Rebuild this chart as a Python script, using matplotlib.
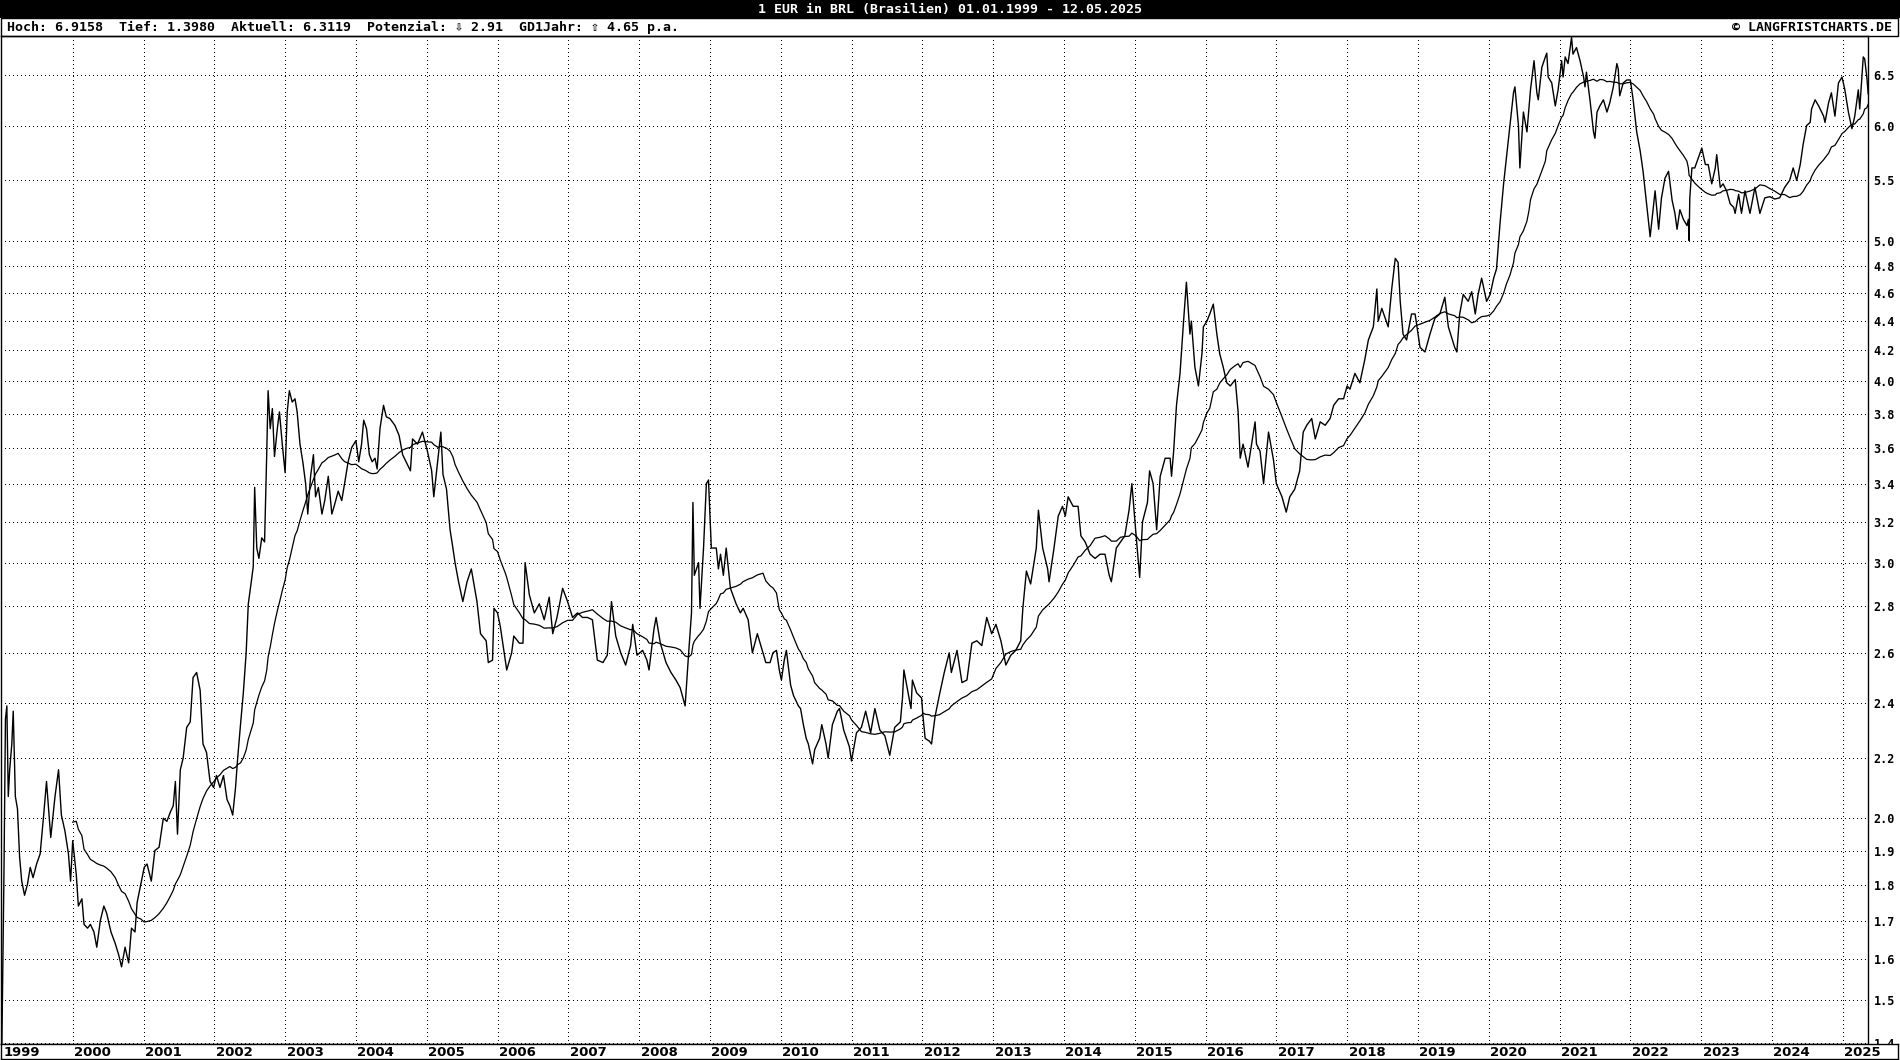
import numpy as np
import pandas as pd
import matplotlib
matplotlib.use("Agg")
import matplotlib.pyplot as plt
from matplotlib.patches import Rectangle
from matplotlib.ticker import NullLocator
from matplotlib.transforms import blended_transform_factory

# EUR/BRL (decimal year, rate)
t_1999_2004 = [1999.00, 1999.01, 1999.03, 1999.05, 1999.07, 1999.09, 1999.11, 1999.14, 1999.16, 1999.19,
               1999.22, 1999.25, 1999.28, 1999.32, 1999.36, 1999.40, 1999.44, 1999.49, 1999.54, 1999.59,
               1999.63, 1999.69, 1999.75, 1999.80, 1999.84, 1999.89, 1999.94, 1999.97, 2000.00, 2000.05,
               2000.08, 2000.13, 2000.16, 2000.21, 2000.25, 2000.30, 2000.34, 2000.39, 2000.44, 2000.48,
               2000.54, 2000.60, 2000.65, 2000.69, 2000.74, 2000.79, 2000.83, 2000.88, 2000.91, 2000.96,
               2001.01, 2001.05, 2001.11, 2001.16, 2001.22, 2001.28, 2001.33, 2001.38, 2001.42, 2001.45,
               2001.48, 2001.52, 2001.56, 2001.61, 2001.66, 2001.70, 2001.75, 2001.80, 2001.84, 2001.89,
               2001.94, 2001.99, 2002.03, 2002.08, 2002.13, 2002.18, 2002.22, 2002.26, 2002.30, 2002.33,
               2002.37, 2002.41, 2002.45, 2002.48, 2002.51, 2002.55, 2002.57, 2002.60, 2002.63, 2002.67,
               2002.71, 2002.74, 2002.76, 2002.79, 2002.82, 2002.85, 2002.89, 2002.92, 2002.96, 2003.00,
               2003.03, 2003.06, 2003.10, 2003.14, 2003.17, 2003.21, 2003.25, 2003.29, 2003.32, 2003.36,
               2003.40, 2003.43, 2003.47, 2003.52, 2003.56, 2003.61, 2003.66, 2003.70, 2003.75, 2003.80,
               2003.84, 2003.89, 2003.94, 2004.00, 2004.04, 2004.08, 2004.11, 2004.15, 2004.19, 2004.23,
               2004.27, 2004.30, 2004.34, 2004.39, 2004.43]
v_1999_2004 = [1.40, 1.54, 1.85, 2.34, 2.39, 2.07, 2.16, 2.25, 2.37, 2.07,
               2.03, 1.88, 1.81, 1.77, 1.80, 1.85, 1.82, 1.86, 1.89, 2.01,
               2.12, 1.94, 2.07, 2.16, 2.01, 1.96, 1.89, 1.81, 1.93, 1.83,
               1.74, 1.76, 1.69, 1.68, 1.69, 1.67, 1.63, 1.70, 1.74, 1.72,
               1.67, 1.64, 1.61, 1.58, 1.63, 1.59, 1.68, 1.67, 1.75, 1.80,
               1.85, 1.86, 1.81, 1.90, 1.91, 2.00, 1.99, 2.02, 2.04, 2.12,
               1.95, 2.16, 2.20, 2.31, 2.33, 2.50, 2.52, 2.45, 2.25, 2.22,
               2.12, 2.10, 2.14, 2.10, 2.14, 2.06, 2.04, 2.01, 2.10, 2.20,
               2.32, 2.44, 2.60, 2.81, 2.88, 2.98, 3.38, 3.07, 3.02, 3.12,
               3.10, 3.56, 3.94, 3.71, 3.83, 3.55, 3.71, 3.81, 3.62, 3.46,
               3.81, 3.94, 3.87, 3.89, 3.81, 3.62, 3.52, 3.40, 3.24, 3.44,
               3.56, 3.33, 3.38, 3.24, 3.31, 3.44, 3.24, 3.29, 3.36, 3.31,
               3.40, 3.52, 3.60, 3.64, 3.52, 3.62, 3.76, 3.71, 3.56, 3.52,
               3.54, 3.48, 3.71, 3.85, 3.78]

t_2004_2009 = [2004.48, 2004.55, 2004.61, 2004.66, 2004.72, 2004.77, 2004.80, 2004.87, 2004.94, 2005.01,
               2005.07, 2005.10, 2005.16, 2005.20, 2005.23, 2005.28, 2005.33, 2005.37, 2005.40, 2005.45,
               2005.51, 2005.57, 2005.63, 2005.71, 2005.76, 2005.84, 2005.87, 2005.93, 2005.95, 2006.00,
               2006.04, 2006.11, 2006.13, 2006.20, 2006.23, 2006.31, 2006.36, 2006.39, 2006.45, 2006.52,
               2006.59, 2006.66, 2006.73, 2006.78, 2006.84, 2006.92, 2006.99, 2007.06, 2007.13, 2007.20,
               2007.27, 2007.34, 2007.41, 2007.49, 2007.55, 2007.61, 2007.67, 2007.74, 2007.81, 2007.88,
               2007.91, 2007.97, 2008.05, 2008.11, 2008.14, 2008.21, 2008.24, 2008.30, 2008.38, 2008.45,
               2008.52, 2008.58, 2008.65, 2008.70, 2008.74, 2008.76, 2008.78, 2008.84, 2008.86, 2008.91,
               2008.95, 2008.98, 2009.02, 2009.09, 2009.12, 2009.15, 2009.19, 2009.23, 2009.29, 2009.37,
               2009.43, 2009.47, 2009.54, 2009.60, 2009.67, 2009.75]
v_2004_2009 = [3.77, 3.73, 3.67, 3.56, 3.51, 3.47, 3.65, 3.62, 3.69, 3.58,
               3.47, 3.33, 3.54, 3.69, 3.45, 3.37, 3.16, 3.07, 3.00, 2.91,
               2.82, 2.91, 2.97, 2.82, 2.68, 2.65, 2.56, 2.57, 2.79, 2.77,
               2.71, 2.57, 2.53, 2.60, 2.67, 2.64, 2.64, 3.00, 2.85, 2.77,
               2.81, 2.74, 2.84, 2.68, 2.75, 2.88, 2.82, 2.75, 2.77, 2.75,
               2.75, 2.74, 2.57, 2.56, 2.59, 2.82, 2.67, 2.60, 2.55, 2.63,
               2.72, 2.59, 2.61, 2.57, 2.53, 2.70, 2.75, 2.64, 2.56, 2.52,
               2.49, 2.46, 2.39, 2.60, 2.77, 3.30, 2.94, 3.00, 2.79, 3.07,
               3.40, 3.42, 3.07, 3.07, 2.97, 3.04, 2.94, 3.07, 2.88, 2.81,
               2.77, 2.79, 2.74, 2.60, 2.68, 2.60]

t_2009_2015 = [2009.79, 2009.85, 2009.89, 2009.94, 2009.98, 2010.01, 2010.05, 2010.08, 2010.14, 2010.18,
               2010.25, 2010.28, 2010.32, 2010.36, 2010.39, 2010.45, 2010.48, 2010.55, 2010.58, 2010.64,
               2010.67, 2010.73, 2010.80, 2010.83, 2010.89, 2010.97, 2011.00, 2011.07, 2011.14, 2011.20,
               2011.27, 2011.33, 2011.40, 2011.47, 2011.54, 2011.61, 2011.69, 2011.72, 2011.74, 2011.80,
               2011.84, 2011.86, 2011.92, 2011.99, 2012.01, 2012.04, 2012.10, 2012.13, 2012.18, 2012.24,
               2012.31, 2012.38, 2012.41, 2012.49, 2012.56, 2012.63, 2012.70, 2012.77, 2012.84, 2012.91,
               2012.98, 2013.04, 2013.11, 2013.18, 2013.25, 2013.32, 2013.39, 2013.42, 2013.47, 2013.53,
               2013.61, 2013.64, 2013.70, 2013.77, 2013.79, 2013.86, 2013.92, 2013.98, 2014.02, 2014.06,
               2014.13, 2014.20, 2014.24, 2014.30, 2014.37, 2014.44, 2014.51, 2014.58, 2014.64, 2014.67,
               2014.74, 2014.80, 2014.86, 2014.92, 2014.96, 2015.02, 2015.07, 2015.11, 2015.18, 2015.21]
v_2009_2015 = [2.56, 2.56, 2.60, 2.61, 2.53, 2.49, 2.57, 2.61, 2.47, 2.43,
               2.39, 2.38, 2.32, 2.27, 2.25, 2.18, 2.23, 2.27, 2.32, 2.25,
               2.20, 2.32, 2.37, 2.38, 2.30, 2.24, 2.19, 2.29, 2.31, 2.37,
               2.29, 2.38, 2.30, 2.28, 2.21, 2.31, 2.33, 2.42, 2.53, 2.44,
               2.38, 2.49, 2.44, 2.42, 2.35, 2.27, 2.26, 2.25, 2.35, 2.43,
               2.52, 2.60, 2.52, 2.61, 2.48, 2.49, 2.64, 2.65, 2.63, 2.75,
               2.68, 2.72, 2.65, 2.55, 2.59, 2.61, 2.65, 2.79, 2.96, 2.90,
               3.07, 3.26, 3.07, 2.97, 2.91, 3.07, 3.23, 3.28, 3.23, 3.33,
               3.28, 3.28, 3.13, 3.10, 3.04, 3.02, 3.04, 3.04, 2.94, 2.91,
               3.07, 3.10, 3.13, 3.26, 3.40, 3.13, 2.93, 3.20, 3.30, 3.47]

t_2015_2020 = [2015.26, 2015.31, 2015.36, 2015.43, 2015.50, 2015.52, 2015.55, 2015.59, 2015.64, 2015.69,
               2015.73, 2015.78, 2015.80, 2015.85, 2015.90, 2015.95, 2015.97, 2016.02, 2016.06, 2016.11,
               2016.16, 2016.20, 2016.25, 2016.30, 2016.35, 2016.42, 2016.46, 2016.49, 2016.53, 2016.60,
               2016.70, 2016.72, 2016.77, 2016.82, 2016.89, 2016.96, 2017.00, 2017.08, 2017.14, 2017.19,
               2017.26, 2017.33, 2017.38, 2017.43, 2017.50, 2017.55, 2017.62, 2017.69, 2017.76, 2017.81,
               2017.88, 2017.95, 2018.00, 2018.04, 2018.11, 2018.18, 2018.25, 2018.30, 2018.37, 2018.42,
               2018.44, 2018.49, 2018.58, 2018.63, 2018.68, 2018.72, 2018.75, 2018.79, 2018.84, 2018.91,
               2018.96, 2019.03, 2019.10, 2019.17, 2019.24, 2019.31, 2019.38, 2019.43, 2019.52, 2019.55,
               2019.59, 2019.64, 2019.71, 2019.76, 2019.81, 2019.85, 2019.90, 2019.97, 2020.02, 2020.07,
               2020.11, 2020.16, 2020.21, 2020.25, 2020.30, 2020.35, 2020.37, 2020.42, 2020.44, 2020.49,
               2020.54]
v_2015_2020 = [3.40, 3.16, 3.44, 3.54, 3.54, 3.44, 3.58, 3.85, 4.05, 4.40,
               4.68, 4.31, 4.40, 4.09, 3.97, 4.18, 4.36, 4.40, 4.45, 4.52,
               4.31, 4.18, 4.09, 3.99, 3.97, 4.01, 3.81, 3.54, 3.62, 3.49,
               3.75, 3.62, 3.58, 3.40, 3.69, 3.53, 3.40, 3.33, 3.25, 3.33,
               3.37, 3.47, 3.69, 3.73, 3.77, 3.65, 3.75, 3.73, 3.77, 3.85,
               3.89, 3.89, 3.97, 3.95, 4.05, 3.99, 4.14, 4.27, 4.36, 4.63,
               4.40, 4.49, 4.36, 4.63, 4.86, 4.83, 4.54, 4.31, 4.27, 4.45,
               4.45, 4.22, 4.19, 4.31, 4.42, 4.45, 4.57, 4.36, 4.22, 4.19,
               4.45, 4.59, 4.54, 4.61, 4.45, 4.59, 4.71, 4.54, 4.59, 4.71,
               4.78, 5.14, 5.47, 5.70, 6.00, 6.32, 6.38, 6.00, 5.61, 6.13,
               5.94]

t_2020_2025 = [2020.57, 2020.59, 2020.64, 2020.68, 2020.70, 2020.75, 2020.80, 2020.82, 2020.84, 2020.89,
               2020.94, 2020.98, 2021.03, 2021.05, 2021.08, 2021.12, 2021.17, 2021.19, 2021.24, 2021.29,
               2021.34, 2021.36, 2021.38, 2021.43, 2021.48, 2021.50, 2021.53, 2021.57, 2021.62, 2021.67,
               2021.71, 2021.76, 2021.81, 2021.83, 2021.85, 2021.90, 2021.95, 2022.00, 2022.04, 2022.09,
               2022.14, 2022.18, 2022.23, 2022.28, 2022.33, 2022.35, 2022.40, 2022.44, 2022.49, 2022.54,
               2022.59, 2022.63, 2022.66, 2022.70, 2022.75, 2022.80, 2022.82, 2022.83, 2022.84, 2022.87,
               2022.91, 2022.96, 2023.01, 2023.06, 2023.10, 2023.15, 2023.20, 2023.22, 2023.27, 2023.31,
               2023.36, 2023.41, 2023.46, 2023.48, 2023.53, 2023.57, 2023.62, 2023.69, 2023.76, 2023.83,
               2023.90, 2023.97, 2024.04, 2024.11, 2024.18, 2024.25, 2024.30, 2024.35, 2024.40, 2024.44,
               2024.49, 2024.54, 2024.56, 2024.61, 2024.66, 2024.73, 2024.75, 2024.80, 2024.84, 2024.89,
               2024.94, 2024.99, 2025.03, 2025.08, 2025.13, 2025.17, 2025.22, 2025.24, 2025.29, 2025.31,
               2025.34, 2025.36]
v_2020_2025 = [6.19, 6.35, 6.65, 6.32, 6.25, 6.58, 6.69, 6.73, 6.48, 6.42,
               6.19, 6.35, 6.65, 6.48, 6.69, 6.62, 6.90, 6.72, 6.79, 6.65,
               6.48, 6.38, 6.53, 6.25, 5.94, 5.88, 6.13, 6.19, 6.25, 6.13,
               6.22, 6.38, 6.62, 6.56, 6.29, 6.42, 6.45, 6.45, 6.25, 5.94,
               5.76, 5.58, 5.30, 5.03, 5.30, 5.41, 5.09, 5.35, 5.52, 5.58,
               5.33, 5.22, 5.09, 5.25, 5.17, 5.12, 5.17, 5.00, 5.35, 5.61,
               5.61, 5.70, 5.79, 5.64, 5.64, 5.47, 5.61, 5.73, 5.44, 5.47,
               5.41, 5.30, 5.27, 5.22, 5.38, 5.22, 5.41, 5.22, 5.44, 5.22,
               5.35, 5.36, 5.34, 5.35, 5.44, 5.50, 5.61, 5.50, 5.64, 5.82,
               6.00, 6.03, 6.16, 6.25, 6.19, 6.09, 6.03, 6.22, 6.32, 6.09,
               6.42, 6.48, 6.35, 6.13, 5.97, 6.09, 6.35, 6.16, 6.69, 6.67,
               6.48, 6.31]

y_ticks = [1.4, 1.5, 1.6, 1.7, 1.8, 1.9, 2.0, 2.2, 2.4, 2.6, 2.8, 3.0, 3.2, 3.4, 3.6, 3.8,
           4.0, 4.2, 4.4, 4.6, 4.8, 5.0, 5.5, 6.0, 6.5]
years = list(range(1999, 2026))

title = "1 EUR in BRL (Brasilien) 01.01.1999 - 12.05.2025"
info = "Hoch: 6.9158  Tief: 1.3980  Aktuell: 6.3119  Potenzial: \u21e9 2.91  GD1Jahr: \u21e7 4.65 p.a."
copy = "\u00a9 LANGFRISTCHARTS.DE"

t = np.array(t_1999_2004 + t_2004_2009 + t_2009_2015 + t_2015_2020 + t_2020_2025)
v = np.array(v_1999_2004 + v_2004_2009 + v_2009_2015 + v_2015_2020 + v_2020_2025)

# 1-year moving average (GD1Jahr)
dates = pd.Timestamp("1999-01-01") + pd.to_timedelta((t - 1999) * 365.25, unit="D")
ma = pd.Series(v, index=dates).rolling("365D").mean().to_numpy()
ma_mask = t >= 2000.0

W, H = 1900, 1060
mono = ["DejaVu Sans Mono", "DejaVu Sans"]

fig = plt.figure(figsize=(W / 100, H / 100), dpi=100)
fig.patch.set_facecolor("white")


def fx(px):
    return px / W


def fy(py):
    return 1 - py / H


# main plot area
left, right, top, bottom = 1, 1868, 36, 1044
ax = fig.add_axes([fx(left), fy(bottom), fx(right - left), (bottom - top) / H])
ax.plot(t[ma_mask], ma[ma_mask], color="black", lw=0.9, zorder=3)
ax.plot(t, v, color="black", lw=1.0, zorder=4)

ax.set_yscale("log")
ax.set_ylim(1.398, 6.9158)
ax.set_xlim(1999 - 0.9 / 70.8, 2025.357)
ax.set_yticks(y_ticks)
ax.set_yticklabels([f"{y:.1f}" for y in y_ticks])
ax.yaxis.set_minor_locator(NullLocator())
ax.yaxis.tick_right()
ax.set_xticks(years[1:])
ax.set_xticklabels([])
ax.tick_params(axis="both", length=0)
ax.tick_params(axis="y", pad=4, labelsize=8.5)
for lab in ax.get_yticklabels():
    lab.set_family(mono)
    lab.set_fontweight("bold")
# small dots, crisp
ax.grid(True, color="black", lw=0.72, ls=(0, (1, 3)), antialiased=False)
for s in ax.spines.values():
    s.set_linewidth(1.0)
    s.set_color("black")

# black title bar
fig.patches.append(Rectangle((0, fy(18)), 1, 18 / H, transform=fig.transFigure,
                             facecolor="black", edgecolor="none"))
fig.text(0.5, fy(9), title, color="white", ha="center", va="center",
         family=mono, fontweight="bold", fontsize=9.5)

# info row
fig.patches.append(Rectangle((fx(0.5), fy(36)), fx(1897), 18 / H, transform=fig.transFigure,
                             facecolor="none", edgecolor="black", lw=1))
fig.text(fx(7), fy(27.5), info, ha="left", va="center", family=mono,
         fontweight="bold", fontsize=9.5)
fig.text(fx(1892), fy(27.5), copy, ha="right", va="center", family=mono,
         fontweight="bold", fontsize=9.5)

# year label strip (drawn over the lower half of the 1.4 label)
ax2 = fig.add_axes([fx(0.5), fy(1059), fx(1897), 15 / H])
ax2.set_facecolor("white")
ax2.set_xticks([])
ax2.set_yticks([])
for s in ax2.spines.values():
    s.set_linewidth(1.0)
tr = blended_transform_factory(ax.transData, ax2.transAxes)
for yr in years:
    ax2.text(yr + 1.5 / 70.8, 0.45, str(yr), transform=tr, ha="left", va="center",
             family=["DejaVu Sans", "DejaVu Sans Mono"], fontweight="bold", fontsize=9.5,
             clip_on=False)

fig.savefig("out.png", dpi=100)
